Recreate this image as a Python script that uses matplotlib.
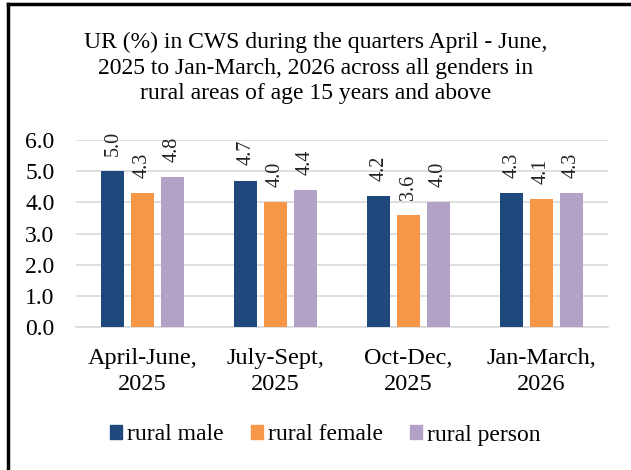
import matplotlib
matplotlib.use("Agg")
import matplotlib.pyplot as plt
import numpy as np
from matplotlib.patches import Rectangle
from matplotlib.lines import Line2D

categories = ["April-June,\n2025", "July-Sept,\n2025", "Oct-Dec,\n2025", "Jan-March,\n2026"]
series_names = ["rural male", "rural female", "rural person"]
male = [5.0, 4.7, 4.2, 4.3]
female = [4.3, 4.0, 3.6, 4.1]
person = [4.8, 4.4, 4.0, 4.3]
colors = ["#1f497d", "#f79646", "#b3a2c7"]
yticks = [0.0, 1.0, 2.0, 3.0, 4.0, 5.0, 6.0]

plt.rcParams['font.family'] = ['Liberation Serif', 'DejaVu Serif']

fig = plt.figure(figsize=(6.31, 4.70), dpi=100)
ax = fig.add_axes([76/631, 1 - 327/470, (608-76)/631, (327-140)/470])

x = np.arange(len(categories))
w = 0.173
step = 0.222
for i, (vals, c) in enumerate(zip([male, female, person], colors)):
    bars = ax.bar(x + (i - 1) * step, vals, width=w, color=c, label=series_names[i], zorder=3)
    for b, v in zip(bars, vals):
        ax.annotate(f"{v:.1f}", (b.get_x() + b.get_width()/2, v), xytext=(0, 11),
                    textcoords="offset points", rotation=90, ha="center", va="bottom",
                    fontsize=14.5, color="#222222")

ax.set_xlim(-0.5, len(categories) - 0.5)
ax.set_ylim(0, 6.0)
ax.set_yticks(yticks)
ax.set_yticklabels([f"{t:.1f}" for t in yticks], fontsize=17)
ax.set_xticks(x)
ax.set_xticklabels(categories, fontsize=17.5, linespacing=1.3)
ax.tick_params(axis='x', length=0, pad=15)
ax.tick_params(axis='y', length=0, pad=15.5)
ax.yaxis.grid(True, color="#d9d9d9", linewidth=1.2, zorder=0)
for s in ["top", "right", "left"]:
    ax.spines[s].set_visible(False)
ax.spines["bottom"].set_color("#d9d9d9")
ax.spines["bottom"].set_linewidth(1.2)

fig.text(0.5, 1 - 68/470, "UR (%) in CWS during the quarters April - June,\n2025 to Jan-March, 2026 across all genders in\nrural areas of age 15 years and above",
         ha="center", va="center", fontsize=17, linespacing=1.3)

handles = [Rectangle((0, 0), 1, 1, color=c) for c in colors]
fig.legend(handles, series_names, loc="center left", bbox_to_anchor=(110/631, 1 - 435/470), ncol=3,
           frameon=False, fontsize=17, handlelength=0.5, handleheight=0.5, handletextpad=0.22,
           columnspacing=1.15, borderpad=0, borderaxespad=0)

fig.add_artist(Line2D([7.5/631, 7.5/631], [0, 1 - 4/470], color="black", lw=2.5, transform=fig.transFigure))
fig.add_artist(Line2D([7.5/631, 1], [1 - 4/470, 1 - 4/470], color="black", lw=2.5, transform=fig.transFigure))

fig.savefig("out.png", dpi=100)
